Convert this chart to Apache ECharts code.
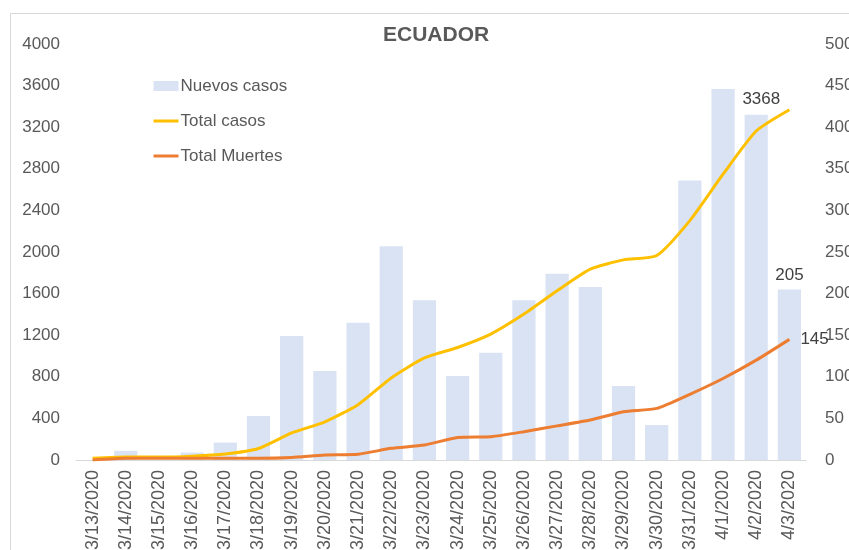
<!DOCTYPE html>
<html lang="es">

<head>
  <meta charset="UTF-8">
  <title>Ecuador</title>
  <script src="https://cdn.jsdelivr.net/npm/echarts@6/dist/echarts.min.js"></script>
  <style>
    body { margin: 0; background: #fff; }
  </style>
</head>

<body>
  <div id="main" style="width: 849px;height:550px;"></div>
  <script>
    // datos
    var dates = ['3/13/2020', '3/14/2020', '3/15/2020', '3/16/2020', '3/17/2020', '3/18/2020', '3/19/2020',
      '3/20/2020', '3/21/2020', '3/22/2020', '3/23/2020', '3/24/2020', '3/25/2020', '3/26/2020', '3/27/2020',
      '3/28/2020', '3/29/2020', '3/30/2020', '3/31/2020', '4/1/2020', '4/2/2020', '4/3/2020'];
    var nuevosCasos = [0, 11, 0, 9, 21, 53, 149, 107, 165, 257, 192, 101, 129, 192, 224, 208, 89, 42, 336, 446, 415, 205];
    var totalCasos = [17, 28, 28, 37, 58, 111, 260, 367, 532, 789, 981, 1082, 1211, 1403, 1627, 1835, 1924, 1966, 2302, 2748, 3163, 3368];
    var totalMuertes = [0, 2, 2, 2, 2, 2, 3, 6, 7, 14, 18, 27, 28, 34, 41, 48, 58, 62, 79, 98, 120, 145];

    var gris = '#595959';
    var fuente = 'Liberation Sans';
    var last = dates.length - 1;

    // solo la ultima barra lleva etiqueta
    function ultimo(arr, label) {
      return arr.map(function (v, i) {
        return i === last ? { value: v, label: label } : v;
      });
    }

    var myChart = echarts.init(document.getElementById('main'));

    var option = {
      textStyle: { fontFamily: fuente },
      title: {
        text: 'ECUADOR',
        left: 383,
        top: 25,
        padding: 0,
        textStyle: { fontSize: 21, fontWeight: 'bold', color: gris, fontFamily: fuente }
      },
      graphic: [{
        type: 'rect',
        shape: { x: 10.5, y: 13.5, width: 900, height: 600 },
        style: { fill: 'none', stroke: '#d9d9d9', lineWidth: 1 },
        silent: true
      }],
      legend: {
        orient: 'vertical',
        left: 152,
        top: 76,
        padding: 0,
        itemWidth: 25,
        itemHeight: 10,
        itemGap: 15,
        textStyle: { fontSize: 17, color: gris, lineHeight: 20, padding: [0, 0, 0, -3] },
        data: [
          { name: 'Nuevos casos', icon: 'rect' },
          { name: 'Total casos', itemStyle: { opacity: 0 }, lineStyle: { width: 3 } },
          { name: 'Total Muertes', itemStyle: { opacity: 0 }, lineStyle: { width: 3 } }
        ]
      },
      grid: { left: 76, right: 43, top: 44, bottom: 90, outerBoundsMode: 'none' },
      xAxis: {
        type: 'category',
        data: dates,
        boundaryGap: true,
        axisLine: { lineStyle: { color: '#d9d9d9' } },
        axisTick: { length: 5, lineStyle: { color: '#d9d9d9' } },
        axisLabel: { rotate: 90, fontSize: 18, color: gris, margin: 10, interval: 0 }
      },
      yAxis: [{
        type: 'value',
        min: 0,
        max: 4000,
        interval: 400,
        splitLine: { show: false },
        axisLine: { show: false },
        axisLabel: { fontSize: 17, color: gris, margin: 16, formatter: function (v) { return String(v); } }
      }, {
        type: 'value',
        min: 0,
        max: 500,
        interval: 50,
        splitLine: { show: false },
        axisLine: { show: false },
        axisLabel: { fontSize: 17, color: gris, margin: 19, formatter: function (v) { return String(v); } }
      }],
      series: [{
        name: 'Nuevos casos',
        type: 'bar',
        yAxisIndex: 1,
        barCategoryGap: '30%',
        itemStyle: { color: '#dae3f3' },
        data: ultimo(nuevosCasos, { show: true, position: 'top', fontSize: 17, color: '#404040', distance: 6 })
      }, {
        name: 'Total casos',
        type: 'line',
        yAxisIndex: 0,
        smooth: 0.2,
        symbol: 'none',
        lineStyle: { color: '#ffc000', width: 3 },
        itemStyle: { color: '#ffc000' },
        endLabel: { show: true, fontSize: 17, color: '#404040', offset: [-55, -10] },
        data: totalCasos
      }, {
        name: 'Total Muertes',
        type: 'line',
        yAxisIndex: 1,
        smooth: 0.2,
        symbol: 'none',
        lineStyle: { color: '#ed7d31', width: 3 },
        itemStyle: { color: '#ed7d31' },
        endLabel: { show: true, fontSize: 17, color: '#404040', distance: 11 },
        data: totalMuertes
      }]
    };

    myChart.setOption(option);
  </script>
</body>

</html>
